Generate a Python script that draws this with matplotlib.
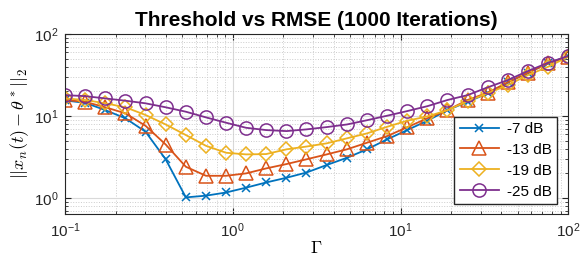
import matplotlib
matplotlib.use("Agg")
import matplotlib.pyplot as plt

plt.rcParams['font.family'] = ['Liberation Sans', 'DejaVu Sans']
plt.rcParams['mathtext.fontset'] = 'cm'

gamma = [0.1, 0.132, 0.174, 0.229, 0.302, 0.398, 0.525, 0.692, 0.912, 1.2,
         1.58, 2.09, 2.75, 3.63, 4.79, 6.31, 8.32, 10.96, 14.45, 19.05,
         25.1, 33.1, 43.7, 57.5, 75.9, 100.0]

rmse_7 = [15.5, 14.5, 11.8, 9.4, 6.44, 2.97, 1.02, 1.07, 1.17, 1.34,
          1.55, 1.77, 2.05, 2.53, 3.1, 3.93, 5.2, 6.75, 8.77, 11.8,
          14.9, 18.9, 25.8, 33.7, 43.9, 54.0]
rmse_13 = [15.7, 14.9, 12.8, 10.8, 7.6, 4.5, 2.41, 1.87, 1.87, 2.0,
           2.3, 2.6, 2.97, 3.41, 3.93, 4.73, 5.7, 7.3, 9.4, 11.8,
           15.7, 19.3, 25.8, 33.7, 43.9, 53.0]
rmse_19 = [16.4, 15.7, 14.3, 12.8, 10.3, 7.9, 5.87, 4.34, 3.57, 3.41,
           3.44, 3.93, 4.25, 4.65, 5.35, 6.15, 7.4, 8.77, 9.9, 11.8,
           15.2, 18.9, 23.9, 31.6, 39.9, 52.9]
rmse_25 = [18.0, 17.5, 16.4, 15.4, 14.3, 12.8, 11.3, 9.64, 8.3, 7.2,
           6.75, 6.56, 6.88, 7.34, 7.9, 8.9, 10.1, 11.5, 13.2, 15.7,
           18.0, 22.4, 27.5, 35.4, 44.7, 53.9]

labels = ['-7 dB', '-13 dB', '-19 dB', '-25 dB']
colors = ['#0072BD', '#D95319', '#EDB120', '#7E2F8E']
markers = ['x', '^', 'D', 'o']
sizes = [6, 9.5, 7, 9.5]

fig = plt.figure(figsize=(5.81, 2.60), dpi=100)
ax = fig.add_axes([0.112, 0.177, 0.866, 0.692])

for y, lab, c, m, s in zip([rmse_7, rmse_13, rmse_19, rmse_25], labels, colors, markers, sizes):
    ax.plot(gamma, y, color=c, marker=m, markersize=s, markerfacecolor='none',
            markeredgewidth=1.1, linewidth=1.3, label=lab)

ax.set_xscale('log')
ax.set_yscale('log')
ax.set_xlim(0.1, 100)
ax.set_ylim(0.64, 100)

ax.grid(True, which='major', color='#d9d9d9', linewidth=0.8, linestyle='-')
ax.grid(True, which='minor', color='#cccccc', linewidth=0.7, linestyle=':')
ax.set_axisbelow(True)
ax.tick_params(which='both', direction='in', top=True, right=True, colors='#262626',
               labelsize=11)
ax.tick_params(which='major', length=4, pad=5)
ax.tick_params(which='minor', length=2)
for sp in ax.spines.values():
    sp.set_color('#262626')
    sp.set_linewidth(0.8)

ax.set_title('Threshold vs RMSE (1000 Iterations)', fontsize=15, fontweight='bold', pad=6)
ax.set_xlabel(r'$\Gamma$', fontsize=13, labelpad=0)
ax.set_ylabel(r'$||x_n(t)-\theta^*||_2$', fontsize=13, labelpad=2)

ax.legend(loc='lower right', bbox_to_anchor=(0.978, 0.056), fontsize=11,
          frameon=True, fancybox=False, edgecolor='#262626', framealpha=1,
          borderaxespad=0, handlelength=2.6, labelspacing=0.45, borderpad=0.35,
          handletextpad=0.5)

fig.savefig('out.png', dpi=100)
